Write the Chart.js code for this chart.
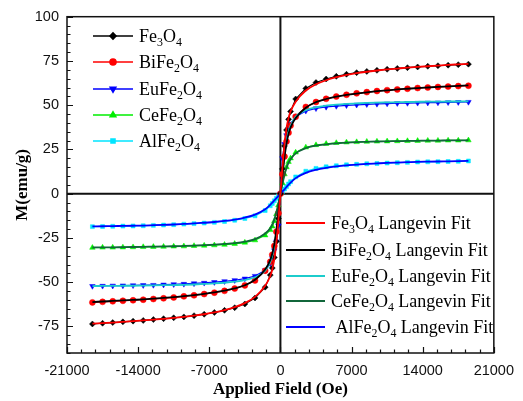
<!DOCTYPE html>
<html>
<head>
<meta charset="utf-8">
<script src="https://cdn.jsdelivr.net/npm/chart.js@4/dist/chart.umd.min.js"></script>
<style>
  html, body { margin: 0; padding: 0; background: #fff; }
  #wrap { width: 523px; height: 401px; position: relative; }
</style>
</head>
<body>
<div id="wrap"><canvas id="c" width="523" height="401"></canvas></div>
<script>
// ---- Data ----
const field = [-18500,-17500,-16500,-15500,-14500,-13500,-12500,-11500,-10500,-9500,-8500,-7500,-6500,-5500,-4500,-3500,-2500,-1500,-1000,-800,-600,-400,-200,0,200,400,600,800,1000,1500,2500,3500,4500,5500,6500,7500,8500,9500,10500,11500,12500,13500,14500,15500,16500,17500,18500];

const fe3o4 = [-73.6,-73.2,-72.8,-72.4,-72.0,-71.6,-71.1,-70.6,-70.1,-69.6,-68.9,-68.1,-67.1,-65.9,-64.4,-62.3,-58.9,-52.8,-46.0,-42.0,-36.0,-27.0,-14.0,0,14.0,27.0,36.0,42.0,46.5,53.5,59.5,62.8,64.8,66.3,67.5,68.4,69.1,69.7,70.3,70.8,71.2,71.6,72.0,72.3,72.6,72.9,73.2];
const bife2o4 = [-61.4,-61.1,-60.8,-60.5,-60.2,-59.9,-59.5,-59.1,-58.6,-58.0,-57.4,-56.7,-55.9,-54.9,-53.6,-51.8,-49.0,-43.5,-38.5,-34.5,-29.5,-21.5,-11.0,0,11.0,21.0,29.5,34.5,38.5,43.5,49.0,51.8,53.6,54.9,55.9,56.7,57.4,58.0,58.5,58.9,59.3,59.7,60.0,60.3,60.5,60.8,61.0];
const eufe2o4 = [-52.2,-52.1,-52.0,-51.9,-51.8,-51.7,-51.6,-51.4,-51.2,-51.0,-50.7,-50.4,-50.0,-49.5,-48.9,-48.0,-46.5,-43.3,-39.5,-36.5,-32.0,-27.0,-18.0,0,20.0,28.0,33.0,36.5,39.5,43.5,46.8,48.2,49.0,49.5,49.9,50.2,50.5,50.7,50.9,51.1,51.2,51.3,51.4,51.5,51.6,51.7,51.8];
const cefe2o4 = [-30.5,-30.4,-30.4,-30.3,-30.2,-30.1,-30.0,-29.9,-29.8,-29.7,-29.5,-29.3,-29.1,-28.8,-28.3,-27.6,-26.3,-23.5,-20.5,-18.5,-15.5,-11.5,-6.5,0,6.0,11.0,15.0,18.0,20.0,23.3,26.2,27.5,28.2,28.7,29.0,29.2,29.4,29.5,29.6,29.7,29.8,29.9,30.0,30.0,30.1,30.1,30.2];
const alfe2o4 = [-18.6,-18.5,-18.4,-18.3,-18.2,-18.1,-17.9,-17.7,-17.5,-17.2,-16.9,-16.6,-16.2,-15.7,-15.0,-14.0,-12.5,-9.5,-6.8,-5.5,-4.0,-2.6,-1.2,0,1.2,2.6,4.0,5.5,6.8,9.5,12.7,14.3,15.2,15.8,16.3,16.6,16.9,17.1,17.3,17.5,17.7,17.9,18.0,18.1,18.2,18.3,18.5];

const fe3o4Fit = [-73.4,-73.1,-72.8,-72.4,-72.0,-71.6,-71.2,-70.7,-70.2,-69.6,-68.9,-68.1,-67.1,-65.8,-64.1,-61.8,-58.3,-52.0,-46.5,-42.8,-37.0,-28.0,-15.0,0,15.0,28.0,37.0,42.8,46.5,52.0,58.3,61.8,64.1,65.8,67.1,68.1,68.9,69.6,70.2,70.7,71.2,71.6,72.0,72.4,72.8,73.1,73.4];
const bife2o4Fit = [-61.2,-60.9,-60.6,-60.3,-60.0,-59.7,-59.3,-58.9,-58.4,-57.9,-57.3,-56.6,-55.8,-54.8,-53.5,-51.7,-48.6,-42.8,-37.5,-33.8,-28.5,-20.5,-10.5,0,10.5,20.5,28.5,33.8,37.5,42.8,48.6,51.7,53.5,54.8,55.8,56.6,57.3,57.9,58.4,58.9,59.3,59.7,60.0,60.3,60.6,60.9,61.2];
const eufe2o4Fit = [-52.2,-52.1,-52.1,-52.0,-52.0,-51.9,-51.8,-51.7,-51.6,-51.5,-51.3,-51.0,-50.7,-50.3,-49.7,-48.8,-47.2,-43.5,-38.5,-35.0,-30.0,-22.0,-12.0,0,12.0,22.0,30.0,35.0,38.5,43.5,47.2,48.8,49.7,50.3,50.7,51.0,51.3,51.5,51.6,51.7,51.8,51.9,52.0,52.0,52.1,52.1,52.2];
const cefe2o4Fit = [-30.4,-30.3,-30.3,-30.2,-30.1,-30.0,-29.9,-29.8,-29.7,-29.5,-29.3,-29.1,-28.8,-28.4,-27.9,-27.1,-25.7,-22.5,-19.5,-17.5,-14.5,-10.5,-5.5,0,5.5,10.5,14.5,17.5,19.5,22.8,25.8,27.2,27.9,28.4,28.8,29.1,29.3,29.5,29.6,29.7,29.8,29.9,30.0,30.0,30.1,30.1,30.2];
const alfe2o4Fit = [-18.5,-18.4,-18.3,-18.2,-18.1,-18.0,-17.8,-17.6,-17.4,-17.1,-16.8,-16.4,-16.0,-15.4,-14.6,-13.5,-11.8,-8.8,-6.3,-5.1,-3.8,-2.5,-1.3,0,1.3,2.5,3.8,5.1,6.3,8.8,11.8,13.5,14.6,15.4,16.0,16.4,16.8,17.1,17.4,17.6,17.8,18.0,18.1,18.2,18.3,18.4,18.5];

const seriesNames = ['Fe3O4', 'BiFe2O4', 'EuFe2O4', 'CeFe2O4', 'AlFe2O4'];
const fitNames = ['Fe3O4 Langevin Fit', 'BiFe2O4 Langevin Fit', 'EuFe2O4 Langevin Fit', 'CeFe2O4 Langevin Fit', ' AlFe2O4 Langevin Fit'];
const xTickLabels = [-21000, -14000, -7000, 0, 7000, 14000, 21000];
const yTickLabels = [-75, -50, -25, 0, 25, 50, 75, 100];
const xTitle = 'Applied Field (Oe)';
const yTitle = 'M(emu/g)';

// ---- Styles ----
const dataColors = ['#000000', '#ff0000', '#0000ff', '#00ee00', '#00e5ff'];
const dataStyles = ['rectRot', 'circle', 'triangle', 'triangle', 'rect'];
const dataRot = [0, 0, 180, 0, 0];
const dataRadius = [3, 3, 3.2, 3.2, 2.8];
const fitColors = ['#ff0000', '#000000', '#1ccccc', '#11663a', '#0000ff'];

const pts = arr => field.map((h, i) => ({ x: h, y: arr[i] }));
const dataSeries = [fe3o4, bife2o4, eufe2o4, cefe2o4, alfe2o4];
const fitSeries = [fe3o4Fit, bife2o4Fit, eufe2o4Fit, cefe2o4Fit, alfe2o4Fit];

const datasets = [];
dataSeries.forEach((s, i) => datasets.push({
  label: seriesNames[i], data: pts(s), showLine: true,
  borderColor: dataColors[i], backgroundColor: dataColors[i], borderWidth: 1.2,
  pointStyle: dataStyles[i], pointRotation: dataRot[i], pointRadius: dataRadius[i],
  pointBorderWidth: 0.5, tension: 0, order: 2
}));
fitSeries.forEach((s, i) => datasets.push({
  label: fitNames[i], data: pts(s), showLine: true,
  borderColor: fitColors[i], backgroundColor: fitColors[i], borderWidth: 1.8,
  pointRadius: 0, cubicInterpolationMode: 'monotone', order: 1
}));

function drawRich(ctx, text, x, y, size) {
  // digits inside chemical formulas rendered as subscripts
  let cx = x;
  const parts = text.match(/\d+|[^\d]+/g) || [];
  parts.forEach(p => {
    if (/^\d+$/.test(p)) {
      ctx.font = (size * 0.66) + 'px "Liberation Serif", "Times New Roman", serif';
      ctx.fillText(p, cx, y + size * 0.3);
    } else {
      ctx.font = size + 'px "Liberation Serif", "Times New Roman", serif';
      ctx.fillText(p, cx, y);
    }
    cx += ctx.measureText(p).width;
  });
}

const framePlugin = {
  id: 'frame',
  beforeDatasetsDraw(chart) {
    const { ctx, chartArea: a, scales: { x, y } } = chart;
    ctx.save();
    ctx.strokeStyle = '#111';
    ctx.lineWidth = 2;
    const x0 = x.getPixelForValue(0), y0 = y.getPixelForValue(0);
    ctx.beginPath();
    ctx.moveTo(a.left, y0); ctx.lineTo(a.right, y0);
    ctx.moveTo(x0, a.top); ctx.lineTo(x0, a.bottom);
    ctx.stroke();
    ctx.restore();
  },
  afterDraw(chart) {
    const { ctx, chartArea: a, scales: { x, y } } = chart;
    ctx.save();
    ctx.strokeStyle = '#111';
    ctx.lineWidth = 1.5;
    ctx.strokeRect(a.left, a.top, a.right - a.left, a.bottom - a.top);
    ctx.lineWidth = 1.2;
    ctx.beginPath();
    for (let v = -21000; v <= 21000; v += 1400) {
      const px = Math.round(x.getPixelForValue(v)) + 0.5;
      const major = xTickLabels.includes(v);
      ctx.moveTo(px, a.bottom); ctx.lineTo(px, a.bottom - (major ? 6 : 3.5));
    }
    for (let v = -90; v <= 100; v += 5) {
      const py = Math.round(y.getPixelForValue(v)) + 0.5;
      const major = yTickLabels.includes(v);
      ctx.moveTo(a.left, py); ctx.lineTo(a.left + (major ? 6 : 3.5), py);
    }
    ctx.stroke();

    // legends
    ctx.textBaseline = 'middle';
    ctx.textAlign = 'left';
    const fs = 18;
    const rows1 = [36, 62, 89, 115, 141];
    const rows2 = [223, 250, 276, 301, 327];
    const meta = chart.data.datasets;
    rows1.forEach((ry, i) => {
      ctx.strokeStyle = dataColors[i]; ctx.lineWidth = 1.6;
      ctx.beginPath(); ctx.moveTo(93, ry); ctx.lineTo(133, ry); ctx.stroke();
      Chart.helpers.drawPoint(ctx, { pointStyle: dataStyles[i], rotation: dataRot[i], radius: dataRadius[i], borderWidth: 0.5 }, 113, ry);
      ctx.fillStyle = dataColors[i];
      ctx.fill && ctx.fill();
      ctx.fillStyle = '#000';
      drawRich(ctx, seriesNames[i], 139, ry + 1, fs);
    });
    rows2.forEach((ry, i) => {
      ctx.strokeStyle = fitColors[i]; ctx.lineWidth = 1.8;
      ctx.beginPath(); ctx.moveTo(286, ry); ctx.lineTo(325, ry); ctx.stroke();
      ctx.fillStyle = '#000';
      drawRich(ctx, fitNames[i], 331, ry + 1, fs);
    });
    ctx.restore();
  }
};

new Chart(document.getElementById('c'), {
  type: 'scatter',
  data: { datasets },
  options: {
    responsive: false,
    animation: false,
    devicePixelRatio: 1,
    layout: { padding: { left: 0, top: 16, right: 28, bottom: 0 } },
    plugins: { legend: { display: false }, tooltip: { enabled: false } },
    elements: { line: { fill: false } },
    scales: {
      x: {
        type: 'linear', min: -21000, max: 21000,
        grid: { display: false, drawTicks: false },
        border: { display: false },
        afterFit: s => { s.height = 48; },
        afterBuildTicks: s => { s.ticks = xTickLabels.map(v => ({ value: v })); },
        ticks: { padding: 9, color: '#111', maxRotation: 0, autoSkip: false,
          font: { family: '"Liberation Sans", Arial, sans-serif', size: 14.5 },
          callback: v => String(v) },
        title: { display: true, text: xTitle, color: '#000', padding: { top: 0, bottom: 1 },
          font: { family: '"Liberation Serif", "Times New Roman", serif', size: 17, weight: 'bold' } }
      },
      y: {
        type: 'linear', min: -90, max: 100,
        grid: { display: false, drawTicks: false },
        border: { display: false },
        afterFit: s => { s.width = 67; },
        afterBuildTicks: s => { s.ticks = yTickLabels.map(v => ({ value: v })); },
        ticks: { padding: 8, color: '#111', autoSkip: false,
          font: { family: '"Liberation Sans", Arial, sans-serif', size: 14.5 },
          callback: v => String(v) },
        title: { display: true, text: yTitle, color: '#000', padding: { top: 12, bottom: 0 },
          font: { family: '"Liberation Serif", "Times New Roman", serif', size: 17, weight: 'bold' } }
      }
    }
  },
  plugins: [framePlugin]
});
</script>
</body>
</html>
